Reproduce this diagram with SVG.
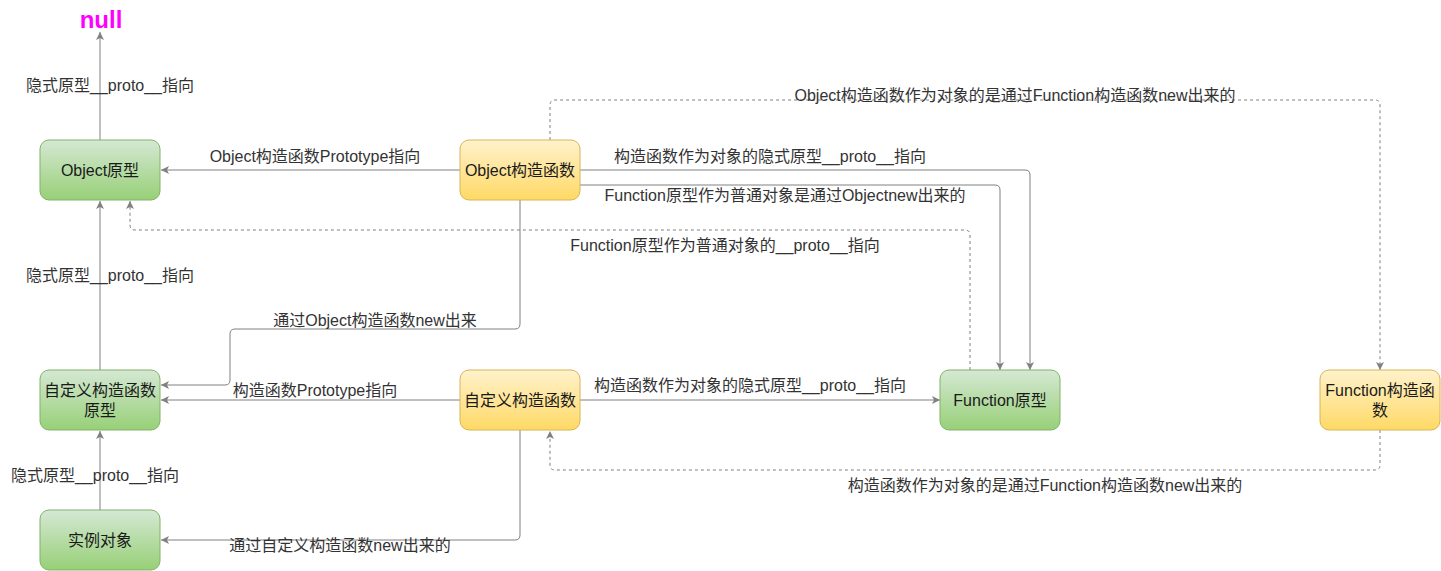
<svg xmlns="http://www.w3.org/2000/svg" width="1441" height="571" viewBox="0 0 1441 571">
<style>
text{font-family:"Liberation Sans","Noto Sans CJK SC",sans-serif;font-size:16px;fill:#333333;text-anchor:middle}
.node text{fill:#1a1a1a}
.green{fill:url(#gGreen);stroke:#82b366;stroke-width:1}
.yellow{fill:url(#gYellow);stroke:#d6b656;stroke-width:1}
.edge{fill:none;stroke:#808080;stroke-width:1;marker-end:url(#arr)}
.dash{stroke-dasharray:3 3}
.null{fill:#ff00ff;font-weight:bold;font-size:24px}
</style>
<defs>
<linearGradient id="gGreen" x1="0" y1="0" x2="0" y2="1"><stop offset="0" stop-color="#d5e8d4"/><stop offset="1" stop-color="#97d077"/></linearGradient>
<linearGradient id="gYellow" x1="0" y1="0" x2="0" y2="1"><stop offset="0" stop-color="#fff2cc"/><stop offset="1" stop-color="#ffd966"/></linearGradient>
<marker id="arr" markerUnits="userSpaceOnUse" viewBox="-8 -4 8 8" refX="0" refY="0" markerWidth="8" markerHeight="8" orient="auto">
<path d="M0,0 L-8,-4 L-6,0 L-8,4 Z" fill="#808080"/>
</marker>
</defs>
<rect width="1441" height="571" fill="#ffffff"/>
<text class="null" x="101" y="28">null</text>
<g id="connectors">
<path class="edge" d="M100,140 V32"/>
<path class="edge" d="M100,370 V201"/>
<path class="edge" d="M100,510 V431"/>
<path class="edge" d="M460,170 H161"/>
<path class="edge" d="M580,170 H1025 Q1030,170 1030,175 V370"/>
<path class="edge" d="M580,185 H995 Q1000,185 1000,190 V370"/>
<path class="edge dash" d="M970,370 V235 Q970,230 965,230 H135 Q130,230 130,225 V201"/>
<path class="edge" d="M520,200 V324 Q520,329 515,329 H235 Q230,329 230,334 V380 Q230,385 225,385 H161"/>
<path class="edge" d="M460,400 H161"/>
<path class="edge" d="M580,400 H940"/>
<path class="edge" d="M520,430 V535 Q520,540 515,540 H161"/>
<path class="edge dash" d="M550,140 V105 Q550,100 555,100 H1375 Q1380,100 1380,105 V370"/>
<path class="edge dash" d="M1380,430 V465 Q1380,470 1375,470 H555 Q550,470 550,465 V431"/>
<text x="110" y="91">隐式原型__proto__指向</text>
<text x="110" y="281">隐式原型__proto__指向</text>
<text x="95" y="481">隐式原型__proto__指向</text>
<text x="315" y="162">Object构造函数Prototype指向</text>
<text x="770" y="162">构造函数作为对象的隐式原型__proto__指向</text>
<text x="785" y="201">Function原型作为普通对象是通过Objectnew出来的</text>
<text x="725" y="251">Function原型作为普通对象的__proto__指向</text>
<text x="1015" y="101">Object构造函数作为对象的是通过Function构造函数new出来的</text>
<text x="375" y="326">通过Object构造函数new出来</text>
<text x="315" y="396">构造函数Prototype指向</text>
<text x="750" y="391">构造函数作为对象的隐式原型__proto__指向</text>
<text x="340" y="551">通过自定义构造函数new出来的</text>
<text x="1045" y="491">构造函数作为对象的是通过Function构造函数new出来的</text>
</g>
<g id="object-prototype" class="node"><rect class="green" x="40" y="140" width="120" height="60" rx="9"/><text x="100" y="176">Object原型</text></g>
<g id="object-constructor" class="node"><rect class="yellow" x="460" y="140" width="120" height="60" rx="9"/><text x="520" y="176">Object构造函数</text></g>
<g id="custom-prototype" class="node"><rect class="green" x="40" y="370" width="120" height="60" rx="9"/><text x="100" y="396">自定义构造函数</text><text x="100" y="416">原型</text></g>
<g id="custom-constructor" class="node"><rect class="yellow" x="460" y="370" width="120" height="60" rx="9"/><text x="520" y="406">自定义构造函数</text></g>
<g id="function-prototype" class="node"><rect class="green" x="940" y="370" width="120" height="60" rx="9"/><text x="1000" y="406">Function原型</text></g>
<g id="function-constructor" class="node"><rect class="yellow" x="1320" y="370" width="120" height="60" rx="9"/><text x="1380" y="396">Function构造函</text><text x="1380" y="416">数</text></g>
<g id="instance" class="node"><rect class="green" x="40" y="510" width="120" height="60" rx="9"/><text x="100" y="546">实例对象</text></g>
</svg>
